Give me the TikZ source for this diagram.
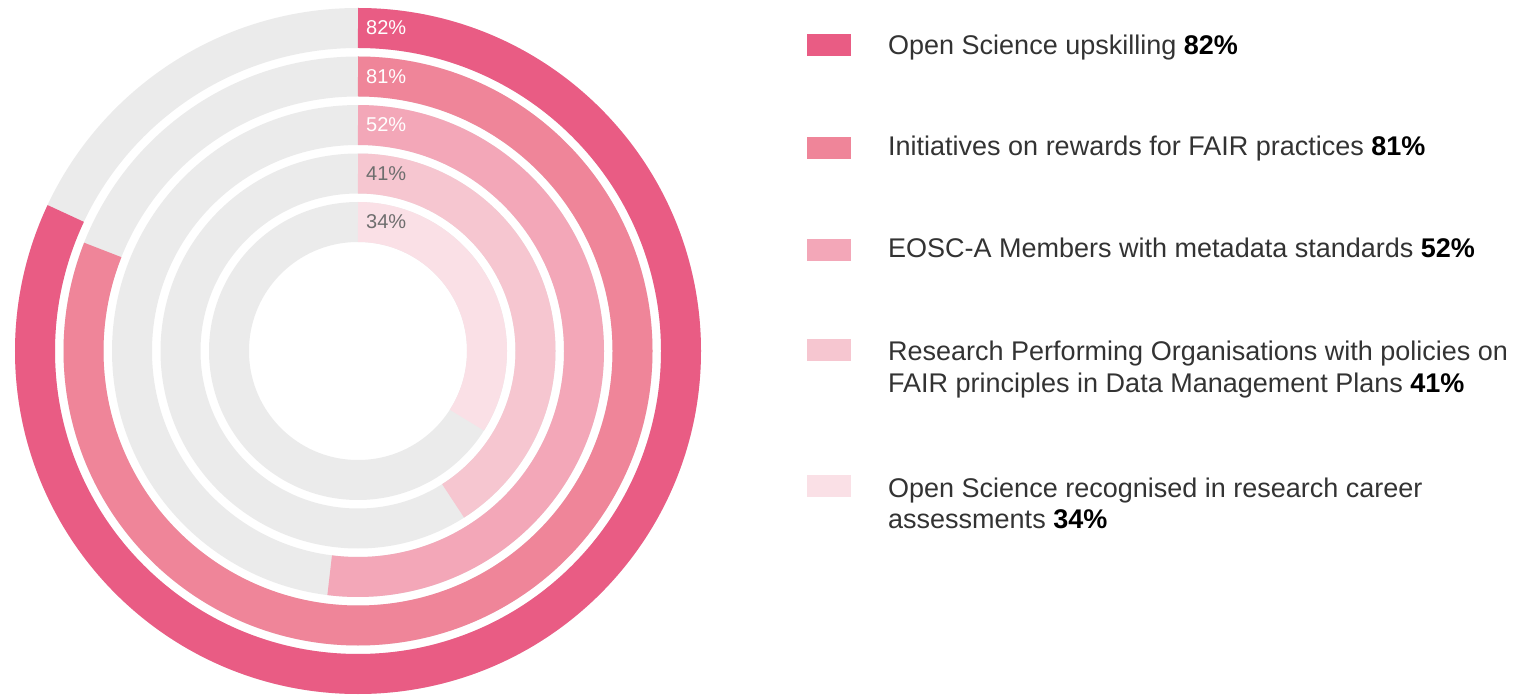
\documentclass[tikz,border=0pt]{standalone}
\usepackage{fontspec}
\setmainfont{Liberation Sans}
\usetikzlibrary{calc}

\definecolor{ringA}{HTML}{E95C84}
\definecolor{ringB}{HTML}{EF8599}
\definecolor{ringC}{HTML}{F3A7B8}
\definecolor{ringD}{HTML}{F6C6D0}
\definecolor{ringE}{HTML}{FAE0E6}
\definecolor{track}{HTML}{EBEBEB}
\definecolor{legtext}{HTML}{333333}
\definecolor{pctgrey}{HTML}{6E6E6E}

\tikzset{
  legbox/.style={minimum width=44pt, minimum height=22pt, inner sep=0pt},
  legtxt/.style={anchor=base west, inner sep=0pt, text=legtext,
    font=\fontsize{27}{32}\selectfont},
  pctlabel/.style={anchor=base west, inner sep=0pt,
    font=\fontsize{20}{24}\selectfont}
}

\begin{document}
\begin{tikzpicture}[x=1pt,y=1pt]
    \useasboundingbox (0,0) rectangle (1532,697);
    \coordinate (c) at (358,346);

    % grey tracks, then the value arcs clockwise from the top
    \foreach \r in {323,274.5,226,177.5,129}
        \draw[track, line width=40pt] (c) circle[radius=\r];
    \foreach \r/\p/\col in {323/82/ringA, 274.5/81/ringB, 226/52/ringC,
                            177.5/41/ringD, 129/34/ringE}
        \draw[\col, line width=40pt] ($(c)+(0,\r)$)
            arc[start angle=90, delta angle=-3.6*\p, radius=\r];

    % values on the rings
    \foreach \r/\p/\tc in {323/82/white, 274.5/81/white, 226/52/white,
                           177.5/41/pctgrey, 129/34/pctgrey}
        \node[pctlabel, text=\tc] (pct\p) at ($(c)+(8,\r-7)$) {\p\%};

    % legend
    \node[legbox, fill=ringA] (box1) at (829,652) {};
    \node[legbox, fill=ringB] (box2) at (829,549) {};
    \node[legbox, fill=ringC] (box3) at (829,447) {};
    \node[legbox, fill=ringD] (box4) at (829,347) {};
    \node[legbox, fill=ringE] (box5) at (829,211) {};

    \node[legtxt] (txt1) at (888,642) {Open Science upskilling \textbf{\color{black}82\%}};
    \node[legtxt] (txt2) at (888,541) {Initiatives on rewards for FAIR practices \textbf{\color{black}81\%}};
    \node[legtxt] (txt3) at (888,439) {EOSC-A Members with metadata standards \textbf{\color{black}52\%}};
    \node[legtxt] (txt4) at (888,336) {Research Performing Organisations with policies on};
    \node[legtxt] (txt4b) at (888,304) {FAIR principles in Data Management Plans \textbf{\color{black}41\%}};
    \node[legtxt] (txt5) at (888,200) {Open Science recognised in research career};
    \node[legtxt] (txt5b) at (888,169) {assessments \textbf{\color{black}34\%}};

\end{tikzpicture}
\end{document}
